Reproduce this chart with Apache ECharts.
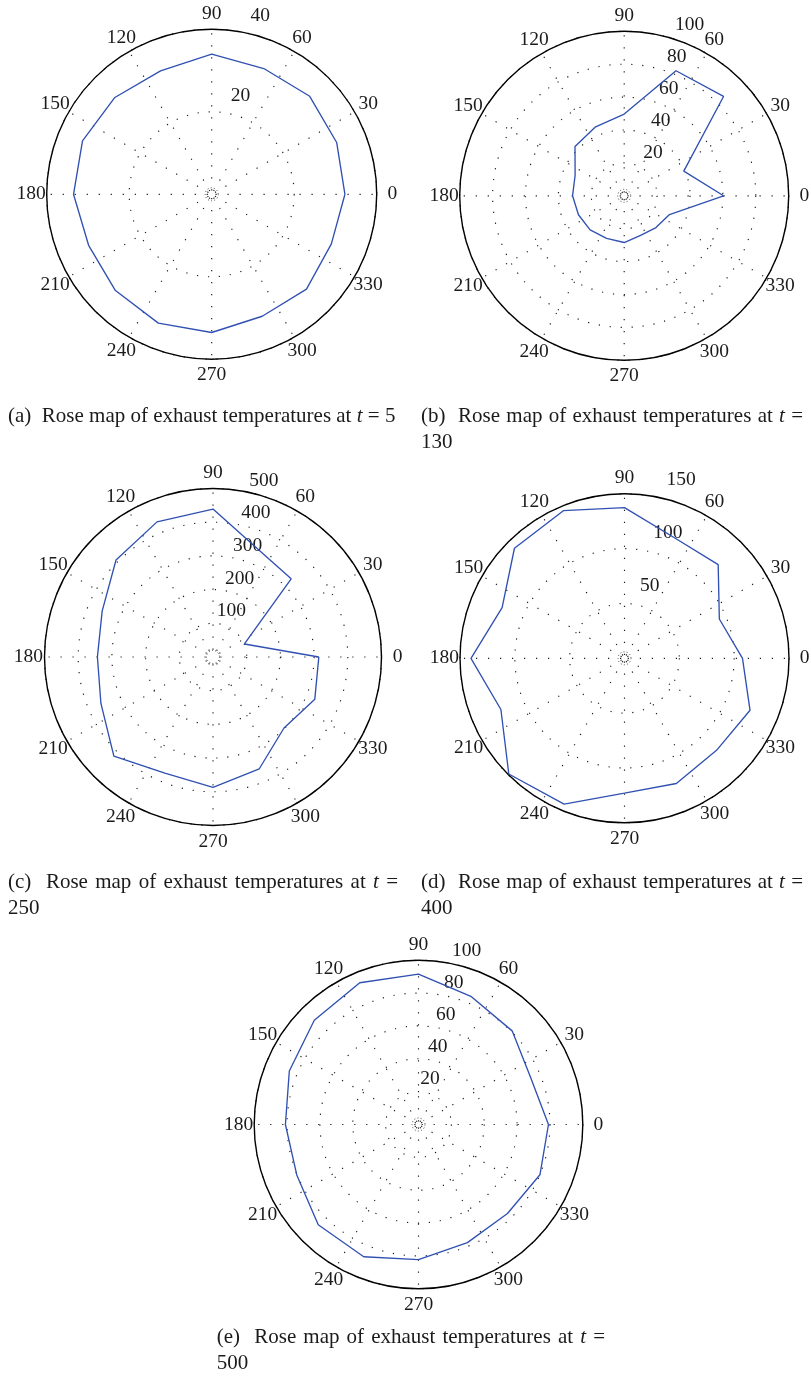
<!DOCTYPE html>
<html>
<head>
<meta charset="utf-8">
<title>Rose maps of exhaust temperatures</title>
<script src="https://cdn.jsdelivr.net/npm/echarts/dist/echarts.min.js"></script>
<style>
  html, body { margin: 0; padding: 0; background: #ffffff; }
  #chart { width: 811px; height: 1379px; }
</style>
</head>
<body>
<div id="chart"></div>
<script>
// Measurement directions (degrees, counter-clockwise from east)
const directions = [0, 22.5, 45, 67.5, 90, 112.5, 135, 157.5, 180, 202.5, 225, 247.5, 270, 292.5, 315, 337.5];

// Exhaust temperatures per direction at each time step
const tempT5   = [32.3, 32.8, 33.6, 33.0, 34.0, 32.4, 33.2, 33.9, 33.5, 32.3, 33.0, 33.8, 33.5, 32.0, 32.5, 31.4];
const tempT130 = [60.4, 39.2, 85.4, 82.3, 49.7, 45.4, 42.3, 32.3, 31.4, 30.1, 29.3, 28.0, 28.4, 26.0, 27.3, 29.8];
const tempT250 = [314, 101, 328, 347, 439, 434, 407, 356, 343, 360, 416, 373, 387, 359, 298, 327];
const tempT400 = [107.6, 93.6, 120.8, 119.0, 137.4, 145.7, 141.9, 120.8, 140.0, 122.0, 149.2, 144.0, 123.0, 123.6, 118.7, 123.9];
const tempT500 = [79.1, 74.0, 80.6, 84.2, 91.5, 93.4, 89.7, 85.1, 81.0, 80.2, 86.3, 87.1, 82.2, 77.8, 76.6, 80.0];

// Tick labels
const angleTicks = [0, 30, 60, 90, 120, 150, 180, 210, 240, 270, 300, 330];
const ringsT5   = [20, 40];
const ringsT130 = [20, 40, 60, 80, 100];
const ringsT250 = [100, 200, 300, 400, 500];
const ringsT400 = [50, 100, 150];
const ringsT500 = [20, 40, 60, 80, 100];

// Caption pieces
const captionHeads = ['(a)', '(b)', '(c)', '(d)', '(e)'];
const captionWords = ['Rose', 'map', 'of', 'exhaust', 'temperatures', 'at'];
const timeSteps = ['5', '130', '250', '400', '500'];

// Panel layout (pixels)
const panels = [
  { values: tempT5,   rings: ringsT5,   center: [211.7, 194.3],  radius: 165.0, ringLabelShift: [-1, 12],
    caption: { x: 8,     base: 423,  right: null } },
  { values: tempT130, rings: ringsT130, center: [624.2, 195.8],  radius: 164.5, ringLabelShift: [11, 5],
    caption: { x: 421,   base: 423,  right: 803 } },
  { values: tempT250, rings: ringsT250, center: [213.0, 657.0],  radius: 168.5, ringLabelShift: [-4.4, 7],
    caption: { x: 8,     base: 889,  right: 398 } },
  { values: tempT400, rings: ringsT400, center: [624.5, 658.3],  radius: 164.5, ringLabelShift: [2.2, 13],
    caption: { x: 421,   base: 889,  right: 803 } },
  { values: tempT500, rings: ringsT500, center: [418.5, 1124.5], radius: 164.3, ringLabelShift: [-6.3, 8],
    caption: { x: 216.7, base: 1344, right: 605 } }
];

const SERIF = '"Liberation Serif", "Times New Roman", serif';
const TICK_FONT_SIZE = 19.5;
const CAPTION_FONT_SIZE = 21;
const LINE_GAP = 26;
const RING_LABEL_ANGLE = 76;
const ANGLE_LABEL_FACTOR = 1.095;
const INK = '#1c1a1b';
const DOT = '#1a1a1a';
const captionFont = CAPTION_FONT_SIZE + 'px ' + SERIF;
const italicFont = 'italic ' + CAPTION_FONT_SIZE + 'px ' + SERIF;

// text measuring for justified caption lines
const measureCtx = document.createElement('canvas').getContext('2d');
function textWidth(str, font) {
  measureCtx.font = font;
  return measureCtx.measureText(str).width;
}

function pushCaption(graphic, i, c) {
  const y = c.base + 4;
  if (c.right === null) {
    graphic.push({
      type: 'text', x: c.x, y, silent: true,
      style: {
        text: captionHeads[i] + '  ' + captionWords.join(' ') + ' {it|t} = ' + timeSteps[i],
        font: captionFont, fill: INK, align: 'left', verticalAlign: 'bottom',
        rich: { it: { font: italicFont, fill: INK } }
      }
    });
    return;
  }
  // first line is justified between c.x and c.right
  const pieces = [{ t: captionHeads[i], f: captionFont, gap: 2 }]
    .concat(captionWords.map(w => ({ t: w, f: captionFont, gap: 1 })))
    .concat([{ t: 't', f: italicFont, gap: 1 }, { t: '=', f: captionFont, gap: 0 }]);
  const spaceW = textWidth(' ', captionFont);
  let wordsW = 0, gapUnits = 0;
  pieces.forEach(p => { p.w = textWidth(p.t, p.f); wordsW += p.w; gapUnits += p.gap; });
  const unit = (c.right - c.x - wordsW) / gapUnits;
  let x = c.x;
  pieces.forEach(p => {
    graphic.push({
      type: 'text', x, y, silent: true,
      style: { text: p.t, font: p.f, fill: INK, align: 'left', verticalAlign: 'bottom' }
    });
    x += p.w + p.gap * Math.max(unit, spaceW * 0.8);
  });
  graphic.push({
    type: 'text', x: c.x, y: y + LINE_GAP, silent: true,
    style: { text: timeSteps[i], font: captionFont, fill: INK, align: 'left', verticalAlign: 'bottom' }
  });
}

const polar = [], angleAxis = [], radiusAxis = [], series = [], graphic = [];

const labelBase = {
  show: true, position: [0.5, 0.5],
  fontFamily: SERIF, fontSize: TICK_FONT_SIZE, color: INK,
  textBorderWidth: 0, opacity: 1
};

panels.forEach((p, i) => {
  const rMax = p.rings[p.rings.length - 1];
  const rInc = p.rings[0];

  polar.push({ center: p.center, radius: p.radius });
  angleAxis.push({
    polarIndex: i, type: 'value', min: 0, max: 360, interval: 30,
    startAngle: 0, clockwise: false,
    axisLine: { show: true, lineStyle: { color: '#000', width: 1.4 } },
    axisTick: { show: false }, axisLabel: { show: false },
    splitLine: { show: true, lineStyle: { color: DOT, width: 1.15, type: [1.2, 10.8], dashOffset: 8 } }
  });
  radiusAxis.push({
    polarIndex: i, type: 'value', min: 0, max: rMax, interval: rInc,
    axisLine: { show: false }, axisTick: { show: false }, axisLabel: { show: false },
    splitLine: { show: true, lineStyle: { color: DOT, width: 1.15, type: [1.2, 9.8] } }
  });

  // closed temperature profile
  const closed = p.values.concat([p.values[0]]);
  const closedDirs = directions.concat([360]);
  series.push({
    type: 'line', coordinateSystem: 'polar', polarIndex: i,
    data: closed.map((v, k) => [v, closedDirs[k]]),
    symbol: 'none', showSymbol: false, clip: false, silent: true, animation: false,
    lineStyle: { color: '#3151b2', width: 1.35 }
  });

  // angle labels around the rim
  series.push({
    type: 'scatter', coordinateSystem: 'polar', polarIndex: i,
    data: angleTicks.map(a => [rMax * ANGLE_LABEL_FACTOR, a]),
    symbol: 'circle', symbolSize: 1, itemStyle: { color: 'rgba(255,255,255,0)' },
    clip: false, silent: true, animation: false,
    label: Object.assign({}, labelBase, {
      align: 'center', verticalAlign: 'middle',
      formatter: prm => String(prm.value[1])
    })
  });

  // ring value labels
  series.push({
    type: 'scatter', coordinateSystem: 'polar', polarIndex: i,
    data: p.rings.map(r => [r, RING_LABEL_ANGLE]),
    symbol: 'circle', symbolSize: 1, itemStyle: { color: 'rgba(255,255,255,0)' },
    clip: false, silent: true, animation: false,
    label: Object.assign({}, labelBase, {
      align: 'left', verticalAlign: 'bottom',
      offset: [p.ringLabelShift[0], -p.ringLabelShift[1] + 4],
      formatter: prm => String(prm.value[0])
    })
  });

  pushCaption(graphic, i, p.caption);
});

// small dotted hub circle at each pole
panels.forEach((p, i) => {
  const k = panels.length + i;
  polar.push({ center: p.center, radius: 6.5 });
  angleAxis.push({
    polarIndex: k, type: 'value', min: 0, max: 360, interval: 90, startAngle: 0,
    axisLine: { show: true, lineStyle: { color: '#444', width: 1, type: [1, 2.2] } },
    axisTick: { show: false }, axisLabel: { show: false }, splitLine: { show: false }
  });
  radiusAxis.push({ polarIndex: k, type: 'value', min: 0, max: 1, show: false });
});

const chart = echarts.init(document.getElementById('chart'), null, { renderer: 'canvas' });
chart.setOption({
  backgroundColor: '#ffffff',
  animation: false,
  polar, angleAxis, radiusAxis, series, graphic
});
</script>
</body>
</html>
